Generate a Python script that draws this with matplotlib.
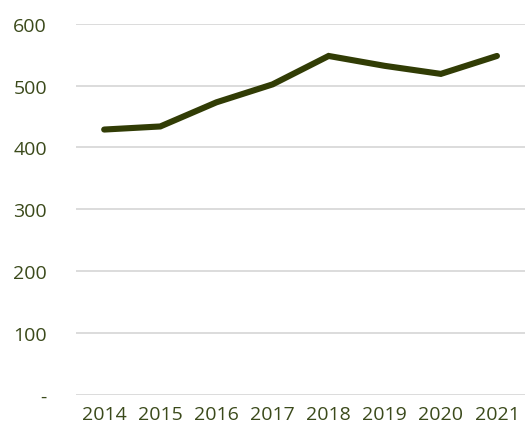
import matplotlib
matplotlib.use("Agg")
import matplotlib.pyplot as plt
import numpy as np

years = ["2014", "2015", "2016", "2017", "2018", "2019", "2020", "2021"]
values = [429, 434, 473, 502, 548, 532, 519, 548]
y_ticks = [0, 100, 200, 300, 400, 500, 600]
y_labels = ["-", "100", "200", "300", "400", "500", "600"]

text_color = "#3b4a1b"
line_color = "#313c05"

plt.rcParams["font.family"] = ["Open Sans", "DejaVu Sans"]

fig = plt.figure(figsize=(5.25, 4.35), dpi=100)
ax = fig.add_axes([0.145, 0.09, 0.855, 0.853])

x = np.arange(len(years))
ax.plot(x, values, color=line_color, linewidth=4.4, solid_capstyle="round", solid_joinstyle="miter", zorder=3)

ax.set_xlim(-0.5, len(years) - 0.5)
ax.set_ylim(0, 600)
ax.set_xticks(x)
ax.set_xticklabels(years)
ax.set_yticks(y_ticks)
ax.set_yticklabels(y_labels)

ax.grid(axis="y", color="#d9d9d9", linewidth=1.3)
ax.set_axisbelow(True)
for s in ax.spines.values():
    s.set_visible(False)
ax.tick_params(axis="both", length=0, labelsize=14, colors=text_color)
ax.tick_params(axis="y", pad=21)
ax.tick_params(axis="x", pad=7)

fig.savefig("out.png", dpi=100)
